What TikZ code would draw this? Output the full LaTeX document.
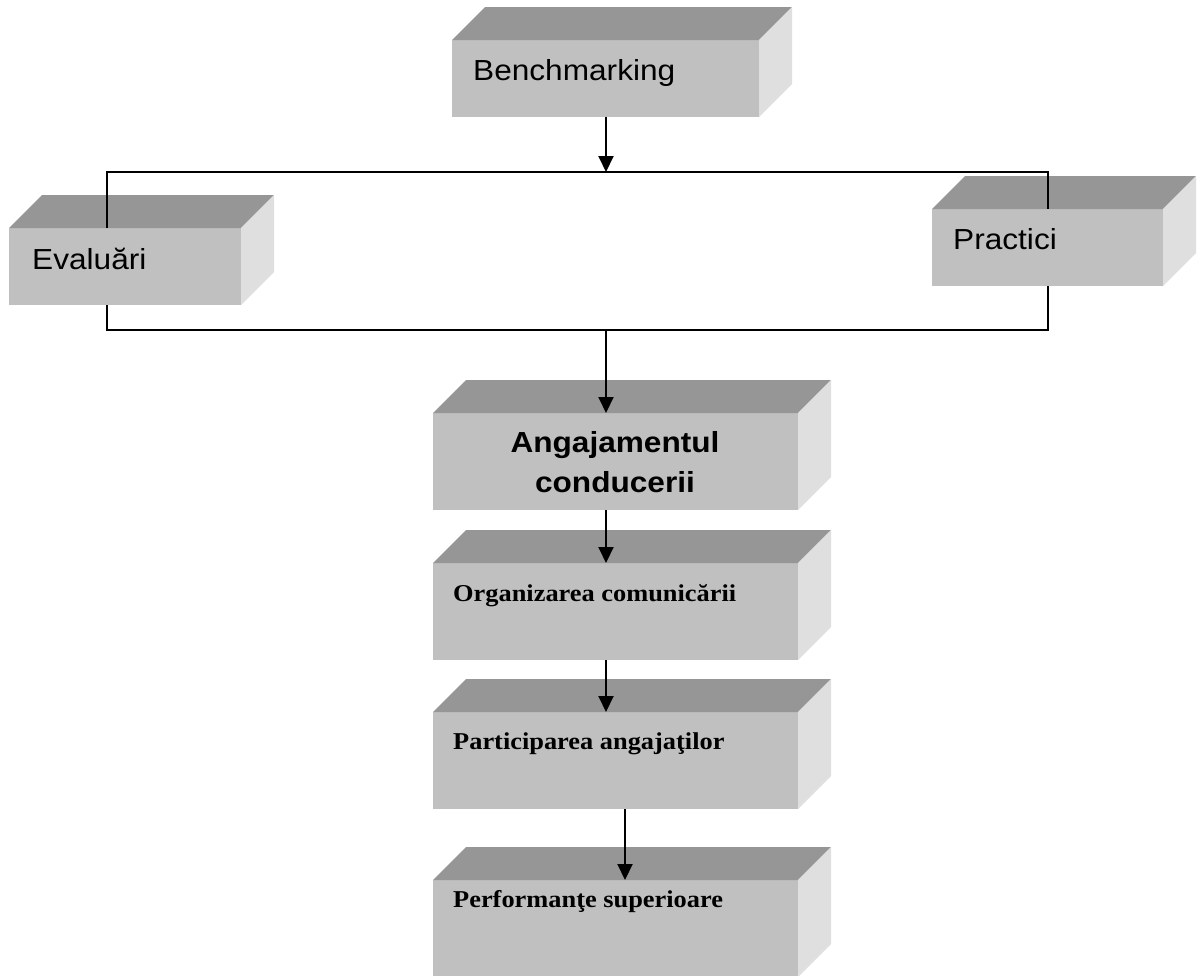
\documentclass[tikz,border=0pt]{standalone}
\usepackage{fontspec}
\usetikzlibrary{arrows.meta}
\newfontfamily\boxsans[FakeStretch=1.09]{Liberation Sans}
\newfontfamily\boxserif[FakeStretch=1.09]{Liberation Serif}
\definecolor{frontgray}{HTML}{C0C0C0}
\definecolor{topgray}{HTML}{969696}
\definecolor{sidegray}{HTML}{DFDFDF}
\tikzset{
  front/.style={draw=none, fill=frontgray, inner sep=0pt, outer sep=0pt, anchor=north west},
  smallbox/.style={front, minimum height=77pt},
  tallbox/.style={front, minimum width=365pt, minimum height=97pt},
  sanslabel/.style={anchor=base west, inner sep=0pt, font=\boxsans\fontsize{29}{35}\selectfont},
  seriflabel/.style={anchor=base west, inner sep=0pt, font=\boxserif\bfseries\fontsize{24.2}{29}\selectfont},
  link/.style={line width=2pt, black},
  arrowlink/.style={link, -{Triangle[length=16pt,width=15pt]}},
}
% top and right faces of a slab whose front face is the node #1
\newcommand\slabfaces[1]{%
  \fill[topgray] (#1.north west) -- ([shift={(33,-33)}]#1.north west)
    -- ([shift={(33,-33)}]#1.north east) -- (#1.north east) -- cycle;
  \fill[sidegray] (#1.north east) -- ([shift={(33,-33)}]#1.north east)
    -- ([shift={(33,-33)}]#1.south east) -- (#1.south east) -- cycle;
}
\begin{document}
\begin{tikzpicture}[x=1pt, y=-1pt]
\useasboundingbox (0,0) rectangle (1204,975);

% front faces
\node[smallbox, minimum width=307pt] (bench) at (452,40) {};
\node[smallbox, minimum width=232pt] (eval) at (9,228) {};
\node[smallbox, minimum width=231pt] (prac) at (932,209) {};
\node[tallbox] (ang) at (433,413) {};
\node[tallbox] (org) at (433,563) {};
\node[tallbox] (part) at (433,712) {};
\node[tallbox] (perf) at (433,880) {};
\foreach \b in {bench,eval,prac,ang,org,part,perf} {\slabfaces{\b}}

% labels
\node[sanslabel] (benchT) at (473,80) {Benchmarking};
\node[sanslabel] (evalT) at (32,269) {Evaluări};
\node[sanslabel] (pracT) at (953,249) {Practici};
\node[inner sep=0pt, align=center, font=\boxsans\bfseries\fontsize{29}{40}\selectfont]
  (angT) at (615,462.5) {Angajamentul\\conducerii};
\node[seriflabel] (orgT) at (453,601) {Organizarea comunicării};
\node[seriflabel] (partT) at (453,749) {Participarea angajaţilor};
\node[seriflabel] (perfT) at (453,907) {Performanţe superioare};

% junction points of the bracket lines
\coordinate (jt) at (606,172);
\coordinate (jl) at (107,172);
\coordinate (jr) at (1048,172);
\coordinate (jlb) at (107,330);
\coordinate (jrb) at (1048,330);
\coordinate (jb) at (606,330);
\coordinate (jp) at (625,330);

% connectors
\draw[arrowlink] (jt |- bench.south) -- (jt);
\draw[link] (jl |- eval.north) -- (jl) -- (jr) -- (jr |- prac.north);
\draw[link] (jlb |- eval.south) -- (jlb) -- (jrb) -- (jrb |- prac.south);
\draw[arrowlink] (jb) -- (jb |- ang.north);
\draw[arrowlink] (jb |- ang.south) -- (jb |- org.north);
\draw[arrowlink] (jb |- org.south) -- (jb |- part.north);
\draw[arrowlink] (jp |- part.south) -- (jp |- perf.north);
\end{tikzpicture}
\end{document}
